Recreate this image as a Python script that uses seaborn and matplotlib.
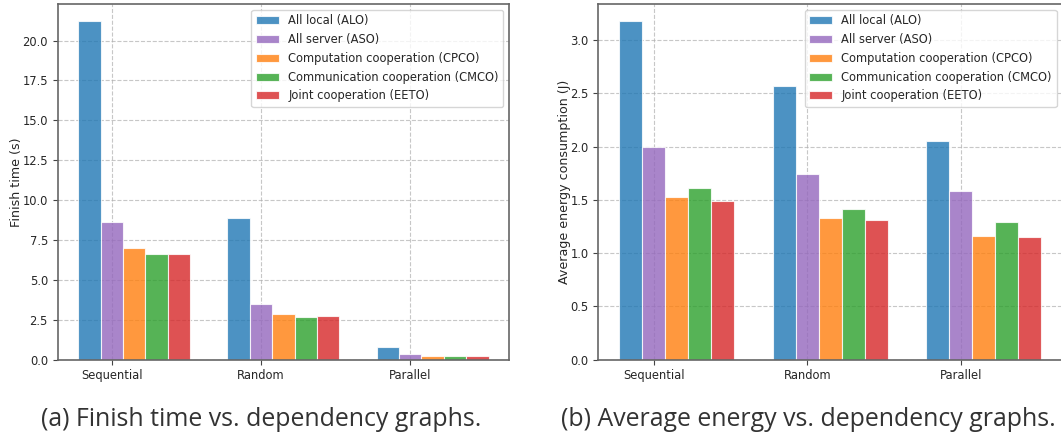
import numpy as np
import pandas as pd
import matplotlib
matplotlib.use("Agg")
import matplotlib.pyplot as plt
import seaborn as sns

# ---------------- data ----------------
graphs = ["Sequential", "Random", "Parallel"]
schemes = [
    "All local (ALO)",
    "All server (ASO)",
    "Computation cooperation (CPCO)",
    "Communication cooperation (CMCO)",
    "Joint cooperation (EETO)",
]
finish_alo = [21.23, 8.89, 0.78]
finish_aso = [8.60, 3.49, 0.34]
finish_cpco = [6.97, 2.84, 0.25]
finish_cmco = [6.62, 2.67, 0.25]
finish_eeto = [6.62, 2.76, 0.23]

energy_alo = [3.18, 2.57, 2.05]
energy_aso = [2.00, 1.74, 1.58]
energy_cpco = [1.53, 1.33, 1.165]
energy_cmco = [1.61, 1.41, 1.29]
energy_eeto = [1.49, 1.31, 1.15]

captions = ["(a) Finish time vs. dependency graphs.",
            "(b) Average energy vs. dependency graphs."]
ylabels = ["Finish time (s)", "Average energy consumption (J)"]

# ---------------- style ----------------
colors = ["#1f77b4", "#9467bd", "#ff7f0e", "#2ca02c", "#d62728"]
bar_w = 0.15
offsets = [-0.15, 0.0, 0.15, 0.30, 0.45]
fs = 8.3

sns.set_style("white")
plt.rcParams["font.family"] = ["DejaVu Sans"]
plt.rcParams["font.size"] = fs

fig = plt.figure(figsize=(10.61, 4.36), dpi=100)
ax1 = fig.add_axes([0.0544, 0.175, 0.4254, 0.8158])
ax2 = fig.add_axes([0.5639, 0.175, 0.4373, 0.8158])

finish = [finish_alo, finish_aso, finish_cpco, finish_cmco, finish_eeto]
energy = [energy_alo, energy_aso, energy_cpco, energy_cmco, energy_eeto]

base = np.arange(len(graphs))
for ax, series, ylab in [(ax1, finish, ylabels[0]), (ax2, energy, ylabels[1])]:
    for name, vals, col, off in zip(schemes, series, colors, offsets):
        df = pd.DataFrame({"x": base + off, "y": vals})
        sns.barplot(data=df, x="x", y="y", native_scale=True, width=bar_w,
                    color=col, saturation=1, alpha=0.8, edgecolor="white",
                    linewidth=0.8, errorbar=None, label=name, ax=ax)
    ax.set_xticks(base)
    ax.set_xticklabels(graphs, fontsize=fs)
    ax.set_xlabel("")
    ax.set_ylabel(ylab, fontsize=9.1, labelpad=-0.5)
    ax.set_xlim(-0.3625, 2.6625)
    ax.grid(True, linestyle="--", color="#b0b0b0", linewidth=0.8, alpha=0.7)
    ax.set_axisbelow(True)
    ax.tick_params(axis="both", which="both", length=3.5, width=0.8,
                   color="#444444", labelsize=fs, bottom=True, left=True)
    for sp in ax.spines.values():
        sp.set_visible(True)
        sp.set_color("#666666")
        sp.set_linewidth(1.2)
    ax.legend(loc="upper right", fontsize=fs, frameon=True, framealpha=0.8,
              edgecolor="#cccccc", fancybox=True)

fig.text(261.5 / 1061, 1 - 425.7 / 436, captions[0], ha="center",
         va="baseline", fontsize=17.9, family=["Open Sans", "DejaVu Sans"],
         color="#333333")
fig.text(808 / 1061, 1 - 425.7 / 436, captions[1], ha="center",
         va="baseline", fontsize=17.9, family=["Open Sans", "DejaVu Sans"],
         color="#333333")

fig.savefig("out.png", dpi=100)
